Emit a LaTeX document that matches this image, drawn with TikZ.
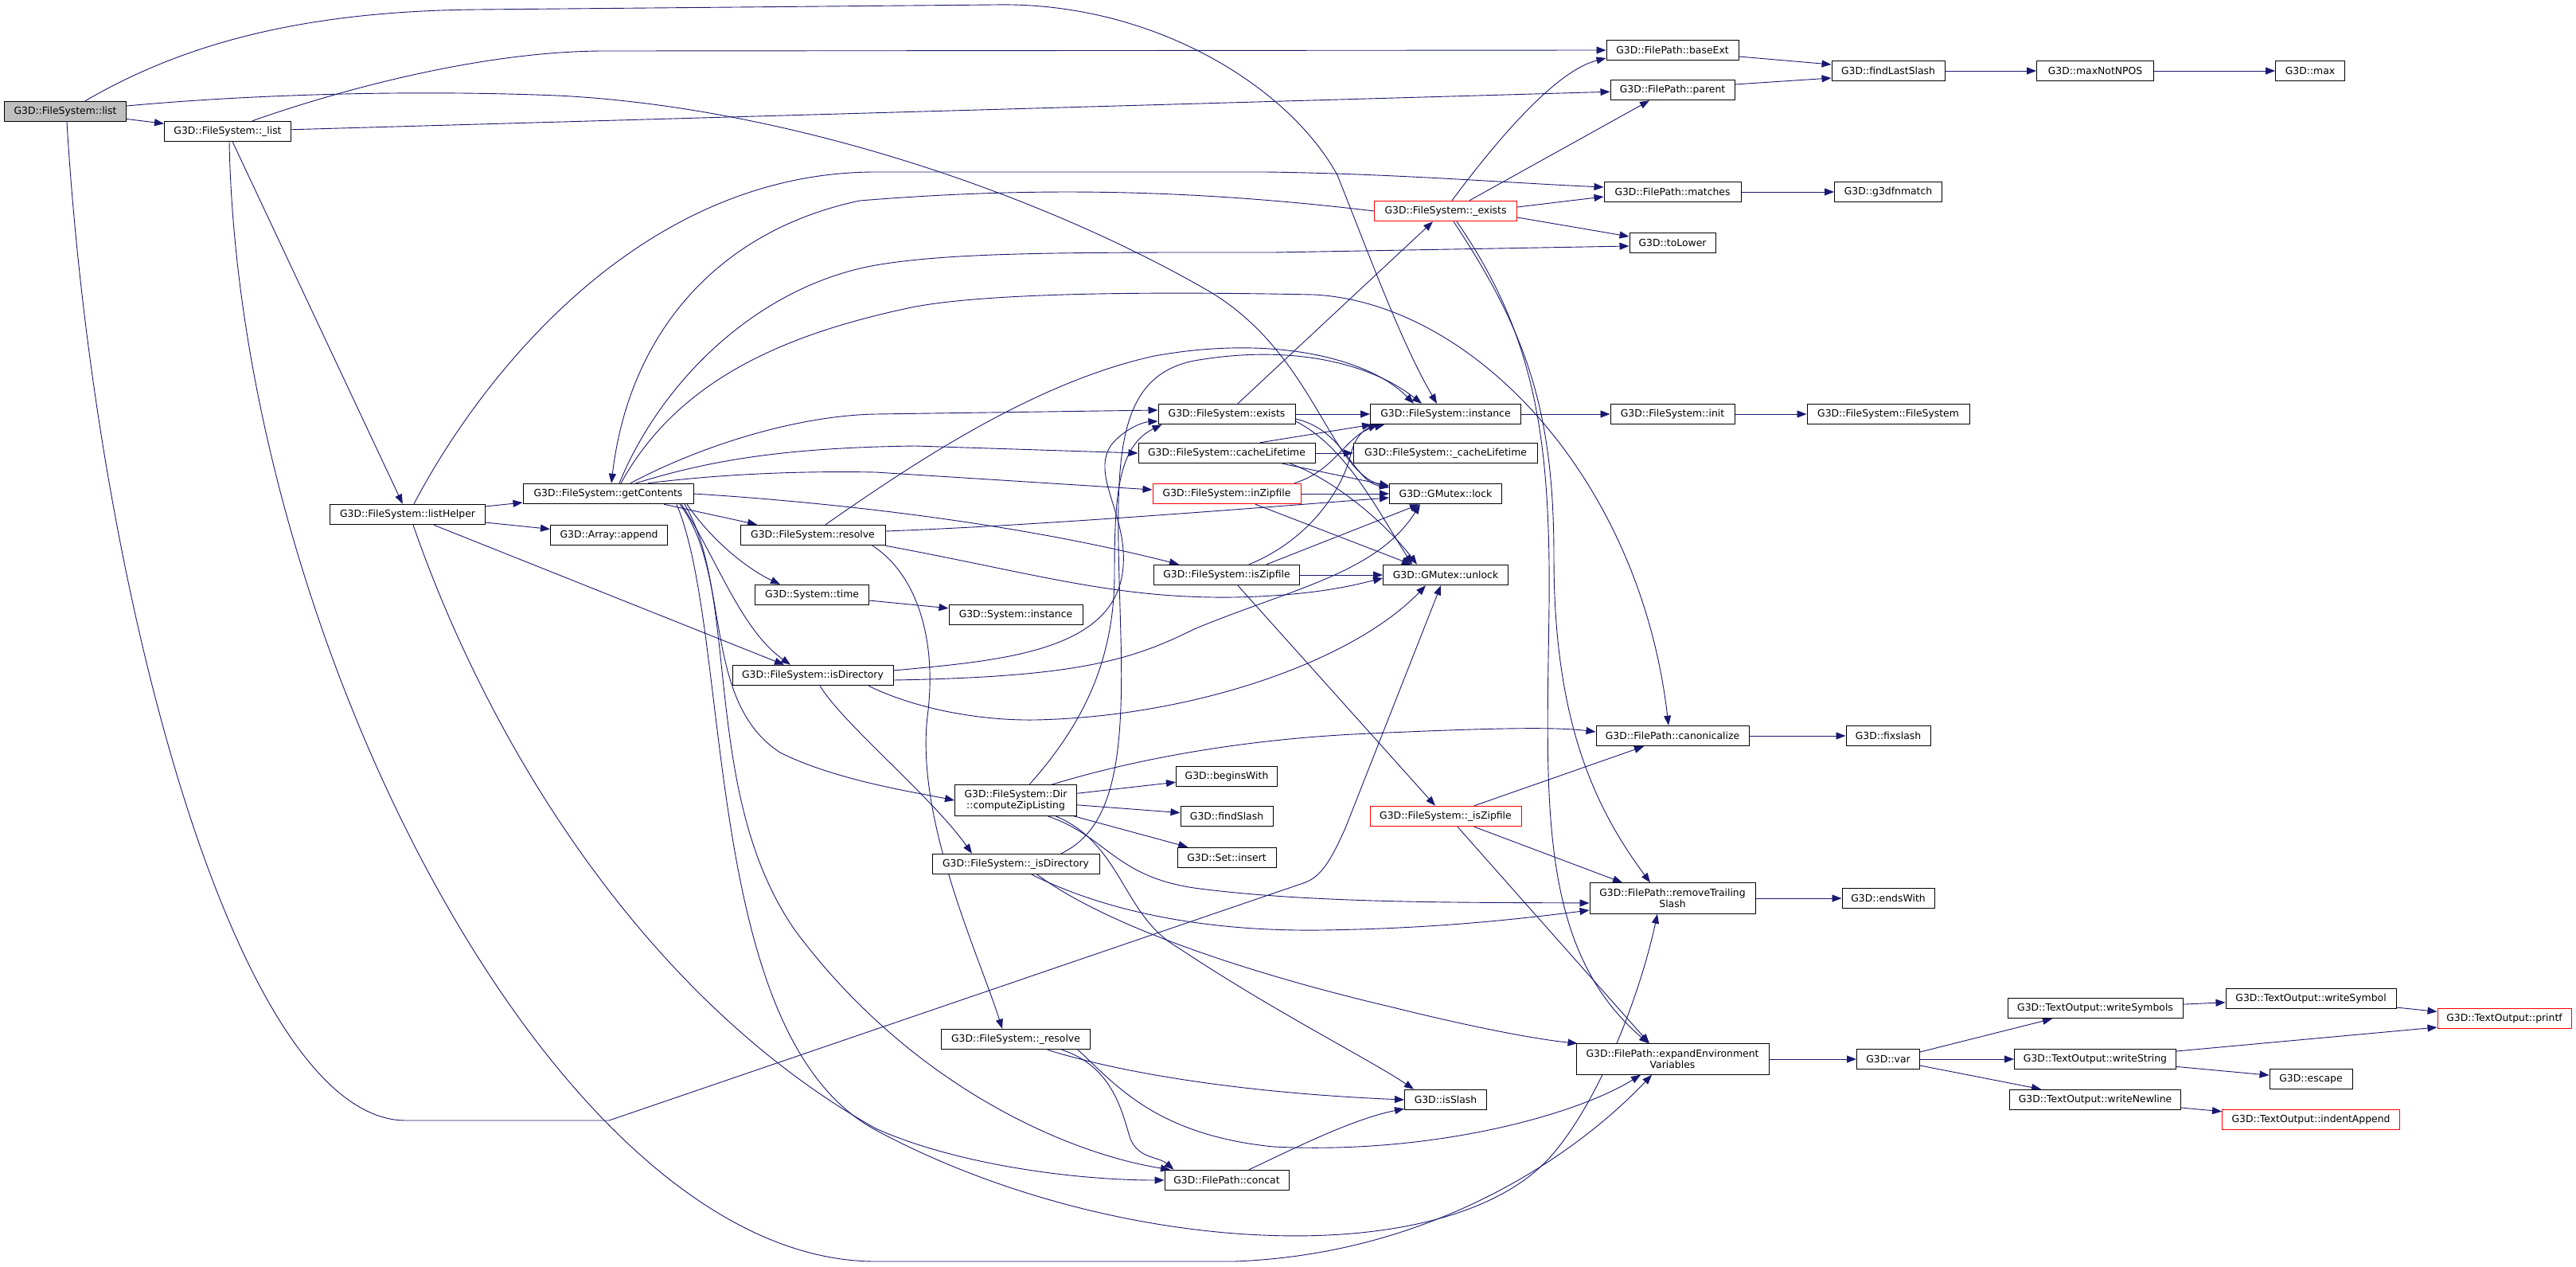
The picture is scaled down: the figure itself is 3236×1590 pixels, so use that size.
\documentclass[tikz,border=0pt]{standalone}
\usepackage{fontspec}
\setmainfont{DejaVu Sans}
\usepackage{tikz}
\usetikzlibrary{arrows.meta,backgrounds}
\definecolor{edgeblue}{RGB}{25,25,112}
\definecolor{rootgray}{RGB}{191,191,191}
\definecolor{hotred}{RGB}{255,0,0}

\begin{document}
\begin{tikzpicture}[
  x=1pt, y=1pt,
  fn/.style={draw=black, fill=white, line width=1pt, inner sep=0pt, minimum height=25.5pt,
    align=center, font=\fontsize{12.4}{14}\selectfont},
  two/.style={fn, minimum height=38.5pt},
  hot/.style={fn, draw=hotred},
  root/.style={fn, fill=rootgray},
  arr/.style={draw=edgeblue, line width=0.9pt, -{Triangle[length=12pt,width=9pt]}}
]
\useasboundingbox (0,0) rectangle (3236,-1590);

% callers, left part
\node[root, minimum width=153] (list) at (82,-140) {G3D::FileSystem::list};
\node[fn, minimum width=159] (ulist) at (286,-165) {G3D::FileSystem::\_list};
\node[fn, minimum width=195] (lhelp) at (512,-646) {G3D::FileSystem::listHelper};
\node[fn, minimum width=214] (getc) at (764,-620) {G3D::FileSystem::getContents};
\node[fn, minimum width=147] (append) at (765,-672) {G3D::Array::append};
\node[fn, minimum width=182] (resolve) at (1021,-672) {G3D::FileSystem::resolve};
\node[fn, minimum width=143] (time) at (1020,-747) {G3D::System::time};
\node[fn, minimum width=202] (isdir) at (1021,-848) {G3D::FileSystem::isDirectory};
\node[fn, minimum width=168] (sysinst) at (1276,-772) {G3D::System::instance};
\node[two, minimum width=153] (zip) at (1276,-1005) {G3D::FileSystem::Dir\\::computeZipListing};
\node[fn, minimum width=210] (uisdir) at (1276,-1085) {G3D::FileSystem::\_isDirectory};
\node[fn, minimum width=187] (uresolve) at (1276,-1305) {G3D::FileSystem::\_resolve};

% middle columns
\node[fn, minimum width=172] (exists) at (1541,-520) {G3D::FileSystem::exists};
\node[fn, minimum width=222] (cachelt) at (1541,-569) {G3D::FileSystem::cacheLifetime};
\node[hot, minimum width=186] (inzip) at (1541,-620) {G3D::FileSystem::inZipfile};
\node[fn, minimum width=183] (iszip) at (1541,-722) {G3D::FileSystem::isZipfile};
\node[fn, minimum width=127] (begins) at (1541,-975) {G3D::beginsWith};
\node[fn, minimum width=116] (findsl) at (1541,-1025) {G3D::findSlash};
\node[fn, minimum width=124] (setins) at (1541,-1077) {G3D::Set::insert};
\node[fn, minimum width=156] (concat) at (1541,-1482) {G3D::FilePath::concat};
\node[hot, minimum width=179] (uexists) at (1816,-265) {G3D::FileSystem::\_exists};
\node[fn, minimum width=189] (inst) at (1816,-520) {G3D::FileSystem::instance};
\node[fn, minimum width=231] (ucachelt) at (1816,-569) {G3D::FileSystem::\_cacheLifetime};
\node[fn, minimum width=141] (lock) at (1816,-620) {G3D::GMutex::lock};
\node[fn, minimum width=157] (unlock) at (1816,-722) {G3D::GMutex::unlock};
\node[hot, minimum width=190] (uiszip) at (1816,-1025) {G3D::FileSystem::\_isZipfile};
\node[fn, minimum width=103] (isslash) at (1816,-1381) {G3D::isSlash};

% FilePath column and leaves
\node[fn, minimum width=166] (baseext) at (2101,-63) {G3D::FilePath::baseExt};
\node[fn, minimum width=156] (parent) at (2101,-113) {G3D::FilePath::parent};
\node[fn, minimum width=172] (matches) at (2101,-241) {G3D::FilePath::matches};
\node[fn, minimum width=108] (tolower) at (2101,-305) {G3D::toLower};
\node[fn, minimum width=156] (init) at (2101,-520) {G3D::FileSystem::init};
\node[fn, minimum width=192] (canon) at (2101,-924) {G3D::FilePath::canonicalize};
\node[two, minimum width=208] (rtrail) at (2101,-1128) {G3D::FilePath::removeTrailing\\Slash};
\node[two, minimum width=242] (expand) at (2101,-1330) {G3D::FilePath::expandEnvironment\\Variables};
\node[fn, minimum width=142] (lastsl) at (2372,-89) {G3D::findLastSlash};
\node[fn, minimum width=135] (fnmatch) at (2372,-241) {G3D::g3dfnmatch};
\node[fn, minimum width=204] (fsctor) at (2372,-520) {G3D::FileSystem::FileSystem};
\node[fn, minimum width=106] (fixsl) at (2372,-924) {G3D::fixslash};
\node[fn, minimum width=116] (endswith) at (2372,-1128) {G3D::endsWith};
\node[fn, minimum width=79] (var) at (2372,-1330) {G3D::var};
\node[fn, minimum width=147] (maxnp) at (2632,-89) {G3D::maxNotNPOS};
\node[fn, minimum width=220] (wsyms) at (2632,-1266) {G3D::TextOutput::writeSymbols};
\node[fn, minimum width=203] (wstr) at (2632,-1330) {G3D::TextOutput::writeString};
\node[fn, minimum width=215] (wnl) at (2632,-1381) {G3D::TextOutput::writeNewline};
\node[fn, minimum width=87] (max) at (2902,-89) {G3D::max};
\node[fn, minimum width=214] (wsym) at (2903,-1254) {G3D::TextOutput::writeSymbol};
\node[fn, minimum width=104] (escape) at (2903,-1355) {G3D::escape};
\node[hot, minimum width=223] (indent) at (2903,-1406) {G3D::TextOutput::indentAppend};
\node[hot, minimum width=168] (printf) at (3146,-1279) {G3D::TextOutput::printf};

\begin{pgfonlayer}{background}
\fill[white] (0,0) rectangle (3236,-1590);
% list and _list
\draw[arr] (list) -- (ulist);
\draw[arr] ([xshift=25]list.north) .. controls (230,-55) and (380,-14) .. (600,-12) -- (1250,-6) .. controls (1450,-2) and (1620,-110) .. (1680,-220) .. controls (1720,-320) and (1760,-430) .. ([xshift=-11]inst.north);
\draw[arr] ([yshift=7]list.east) .. controls (300,-120) and (500,-112) .. (700,-120) .. controls (1000,-135) and (1320,-250) .. (1521,-367) .. controls (1650,-445) and (1670,-590) .. ([yshift=8]lock.west);
\draw[arr] ([xshift=2]list.south) .. controls (120,-750) and (300,-1407) .. (510,-1407) -- (765,-1407) -- (1640,-1108) .. controls (1660,-1100) and (1672,-1080) .. (1690,-1040) -- ([xshift=-6]unlock.south);
\draw[arr] ([xshift=31]ulist.north) .. controls (450,-105) and (620,-64) .. (760,-64) -- (baseext.west);
\draw[arr] (ulist) -- (parent);
\draw[arr] (ulist) -- (lhelp);
\draw[arr] ([xshift=2]ulist.south) .. controls (300,-800) and (700,-1584) .. (1100,-1584) -- (1550,-1584) .. controls (1800,-1575) and (1980,-1450) .. ([xshift=-26]expand.south);
% listHelper
\draw[arr] (lhelp) -- (getc);
\draw[arr] (lhelp) -- (append);
\draw[arr] ([xshift=33]lhelp.south) -- ([xshift=-36]isdir.north);
\draw[arr] ([xshift=8]lhelp.north) .. controls (600,-480) and (800,-216) .. (1100,-216) -- (1590,-216) .. controls (1750,-218) and (1900,-230) .. ([yshift=6]matches.west);
\draw[arr] ([xshift=7]lhelp.south) .. controls (620,-950) and (820,-1260) .. (1100,-1417) .. controls (1200,-1462) and (1350,-1482) .. (concat.west);
% getContents
\draw[arr] ([xshift=86]getc.south) .. controls (920,-800) and (880,-1300) .. (1100,-1419) .. controls (1400,-1580) and (1820,-1600) .. (1950,-1450) .. controls (2010,-1380) and (2060,-1250) .. ([xshift=-19]rtrail.south);
\draw[arr] ([xshift=96]getc.south) .. controls (930,-750) and (880,-1000) .. (1000,-1170) .. controls (1150,-1370) and (1350,-1450) .. ([xshift=-71]concat.north);
\draw[arr] ([xshift=90]getc.south) .. controls (920,-720) and (880,-880) .. (980,-945) .. controls (1050,-980) and (1150,-995) .. (zip.west);
\draw[arr] ([xshift=92]getc.south) .. controls (900,-700) and (930,-790) .. ([xshift=-28]isdir.north);
\draw[arr] ([xshift=99]getc.south) .. controls (895,-680) and (940,-715) .. ([xshift=-40]time.north);
\draw[arr] ([xshift=70]getc.south) -- ([xshift=-70]resolve.north);
\draw[arr] (uexists.west) .. controls (1500,-238) and (1300,-234) .. (1080,-252) .. controls (900,-290) and (790,-420) .. ([xshift=4]getc.north);
\draw[arr] ([xshift=14]getc.north) .. controls (830,-480) and (950,-360) .. (1100,-333) .. controls (1200,-316) and (1350,-317) .. (1600,-317) -- ([yshift=-4]tolower.west);
\draw[arr] ([xshift=16]getc.north) .. controls (850,-480) and (980,-420) .. (1150,-385) .. controls (1260,-365) and (1500,-367) .. (1650,-370) .. controls (1850,-380) and (2060,-600) .. ([xshift=-5]canon.north);
\draw[arr] ([xshift=28]getc.north) .. controls (880,-560) and (1000,-522) .. (1100,-520) -- ([yshift=5]exists.west);
\draw[arr] ([xshift=35]getc.north) .. controls (900,-575) and (1000,-562) .. (1150,-560) -- (cachelt.west);
\draw[arr] ([xshift=50]getc.north) .. controls (900,-596) and (1000,-591) .. (1100,-593) -- ([yshift=5]inzip.west);
\draw[arr] (getc.east) .. controls (1000,-628) and (1250,-650) .. ([xshift=-60]iszip.north);
% resolve, time, isDirectory
\draw[arr] ([xshift=16]resolve.north) .. controls (1150,-580) and (1300,-480) .. (1450,-447) .. controls (1600,-420) and (1720,-450) .. ([xshift=-40]inst.north);
\draw[arr] ([yshift=5]resolve.east) .. controls (1300,-660) and (1550,-640) .. ([yshift=-5]lock.west);
\draw[arr] (resolve.south east) .. controls (1300,-720) and (1400,-752) .. (1550,-750) .. controls (1650,-748) and (1700,-735) .. ([yshift=-4]unlock.west);
\draw[arr] ([xshift=75]resolve.south) .. controls (1150,-720) and (1178,-800) .. (1165,-900) .. controls (1150,-1030) and (1230,-1200) .. ([xshift=-17]uresolve.north);
\draw[arr] (time) -- (sysinst);
\draw[arr] ([yshift=6]isdir.east) .. controls (1250,-830) and (1395,-820) .. (1410,-720) .. controls (1420,-650) and (1370,-600) .. (1395,-560) .. controls (1410,-540) and (1435,-530) .. ([yshift=-9]exists.west);
\draw[arr] ([yshift=-6]isdir.east) .. controls (1350,-850) and (1420,-830) .. (1500,-790) .. controls (1620,-740) and (1730,-720) .. ([xshift=-32]lock.south);
\draw[arr] ([xshift=70]isdir.south) .. controls (1150,-890) and (1230,-905) .. (1300,-904) .. controls (1500,-900) and (1700,-830) .. ([xshift=-25]unlock.south);
\draw[arr] ([xshift=9]isdir.south) .. controls (1060,-910) and (1170,-1000) .. ([xshift=-55]uisdir.north);
% Dir::computeZipListing, _isDirectory, _resolve
\draw[arr] ([xshift=17]zip.north) .. controls (1360,-910) and (1400,-830) .. (1400,-720) .. controls (1400,-620) and (1405,-560) .. ([xshift=5]exists.south west);
\draw[arr] ([xshift=57]uisdir.north) .. controls (1400,-1040) and (1412,-950) .. (1408,-800) .. controls (1403,-600) and (1390,-475) .. (1500,-453) .. controls (1620,-432) and (1720,-455) .. ([xshift=-30]inst.north);
\draw[arr] (zip) -- (begins);
\draw[arr] (zip) -- (findsl);
\draw[arr] (zip) -- (setins);
\draw[arr] ([xshift=45]zip.north) .. controls (1420,-955) and (1550,-930) .. (1700,-922) .. controls (1850,-915) and (1950,-912) .. ([yshift=5]canon.west);
\draw[arr] ([xshift=40]zip.south) .. controls (1390,-1050) and (1400,-1100) .. (1500,-1115) .. controls (1650,-1135) and (1850,-1133) .. ([yshift=-6]rtrail.west);
\draw[arr] ([xshift=50]zip.south) .. controls (1410,-1060) and (1410,-1150) .. (1480,-1190) .. controls (1600,-1270) and (1720,-1330) .. ([xshift=-40]isslash.north);
\draw[arr] ([xshift=20]uisdir.south) .. controls (1380,-1140) and (1500,-1170) .. (1660,-1168) .. controls (1800,-1166) and (1900,-1155) .. ([yshift=-15]rtrail.west);
\draw[arr] ([xshift=27]uisdir.south) .. controls (1400,-1170) and (1600,-1230) .. (1750,-1265) .. controls (1850,-1290) and (1930,-1305) .. ([xshift=2]expand.north west);
\draw[arr] ([xshift=40]uresolve.south) .. controls (1400,-1345) and (1550,-1372) .. (isslash.west);
\draw[arr] ([xshift=58]uresolve.south) .. controls (1400,-1340) and (1410,-1400) .. (1420,-1430) .. controls (1430,-1455) and (1455,-1452) .. ([xshift=12]concat.north west);
\draw[arr] ([xshift=78]uresolve.south) .. controls (1400,-1360) and (1450,-1425) .. (1600,-1440) .. controls (1800,-1450) and (1980,-1400) .. ([xshift=-40]expand.south);
\draw[arr] ([xshift=28]concat.north) .. controls (1630,-1440) and (1700,-1405) .. ([yshift=2]isslash.south west);
% exists, cacheLifetime, inZipfile, isZipfile
\draw[arr] ([xshift=14]exists.north) -- ([xshift=-16]uexists.south);
\draw[arr] (exists) -- (inst);
\draw[arr] ([yshift=-6]exists.east) .. controls (1690,-540) and (1700,-605) .. ([yshift=8]lock.west);
\draw[arr] ([yshift=-9]exists.east) .. controls (1690,-560) and (1730,-640) .. ([xshift=-42]unlock.north);
\draw[arr] ([xshift=42]cachelt.north) -- ([xshift=2]inst.south west);
\draw[arr] (cachelt) -- (ucachelt);
\draw[arr] ([xshift=70]cachelt.south) -- ([yshift=10]lock.west);
\draw[arr] ([xshift=80]cachelt.south) .. controls (1670,-600) and (1735,-650) .. ([xshift=-36]unlock.north);
\draw[arr] ([xshift=85]inzip.north) .. controls (1680,-590) and (1690,-545) .. ([xshift=18]inst.south west);
\draw[arr] (inzip) -- (lock);
\draw[arr] ([xshift=36]inzip.south) -- ([xshift=-43]unlock.north);
\draw[arr] ([xshift=28]iszip.north) .. controls (1640,-680) and (1685,-620) .. (1697,-570) .. controls (1702,-550) and (1712,-540) .. ([xshift=10]inst.south west);
\draw[arr] ([xshift=50]iszip.north) -- ([xshift=-33]lock.south);
\draw[arr] (iszip) -- (unlock);
\draw[arr] ([xshift=14]iszip.south) -- ([xshift=-13]uiszip.north);
% _exists, _isZipfile
\draw[arr] ([xshift=8]uexists.north) .. controls (1870,-190) and (1950,-90) .. ([yshift=-10]baseext.west);
\draw[arr] ([xshift=30]uexists.north) -- ([xshift=-29]parent.south);
\draw[arr] ([yshift=5]uexists.east) -- ([yshift=-6]matches.west);
\draw[arr] ([yshift=-8]uexists.east) -- ([yshift=8]tolower.west);
\draw[arr] ([xshift=10]uexists.south) .. controls (1920,-420) and (1952,-520) .. (1952,-700) .. controls (1952,-900) and (2000,-1010) .. ([xshift=-28]rtrail.north);
\draw[arr] ([xshift=14]uexists.south) .. controls (1928,-420) and (1948,-550) .. (1946,-760) .. controls (1943,-1000) and (1930,-1190) .. ([xshift=-30]expand.north);
\draw[arr] ([xshift=36]uiszip.north) -- ([xshift=-36]canon.south);
\draw[arr] ([xshift=36]uiszip.south) -- ([xshift=-63]rtrail.north);
\draw[arr] ([xshift=15]uiszip.south) -- ([xshift=-29]expand.north);
% right part
\draw[arr] (inst) -- (init);
\draw[arr] (init) -- (fsctor);
\draw[arr] ([yshift=-8]baseext.east) -- ([yshift=8]lastsl.west);
\draw[arr] ([yshift=7]parent.east) -- ([yshift=-9]lastsl.west);
\draw[arr] (lastsl) -- (maxnp);
\draw[arr] (maxnp) -- (max);
\draw[arr] (matches) -- (fnmatch);
\draw[arr] (canon) -- (fixsl);
\draw[arr] (rtrail) -- (endswith);
\draw[arr] (expand) -- (var);
\draw[arr] ([yshift=9]var.east) -- ([xshift=-54]wsyms.south);
\draw[arr] (var) -- (wstr);
\draw[arr] ([yshift=-8]var.east) -- ([xshift=-68]wnl.north);
\draw[arr] (wsyms) -- (wsym);
\draw[arr] (wsym) -- (printf);
\draw[arr] ([yshift=10]wstr.east) -- ([yshift=-11]printf.west);
\draw[arr] (wstr) -- (escape);
\draw[arr] (wnl) -- (indent);
\end{pgfonlayer}
\end{tikzpicture}
\end{document}
